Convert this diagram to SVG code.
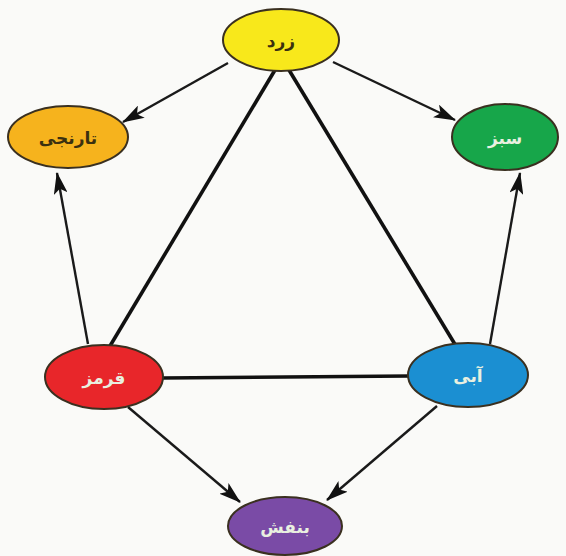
<svg xmlns="http://www.w3.org/2000/svg" width="566" height="556" viewBox="0 0 566 556">
<defs>
<style>
.node{stroke:#3a3020;stroke-width:2}
.lbl{font-family:"DejaVu Sans",sans-serif;font-weight:bold;font-size:17px;text-anchor:middle;dominant-baseline:central}
.dark{fill:#3b3010}
.light{fill:#e9f0e0}
.arr{stroke:#1a1a1a;stroke-width:2.4;fill:none;marker-end:url(#ah)}
.tri{stroke:#111;stroke-width:3.6;fill:none}
</style>
<marker id="ah" viewBox="0 0 22 14" refX="21" refY="7" markerWidth="22" markerHeight="14" markerUnits="userSpaceOnUse" orient="auto">
<path d="M0,0 L22,7 L0,14 L5,7 Z" fill="#111"/>
</marker>
</defs>
<rect width="566" height="556" fill="#fafaf8"/>
<g id="connectors">
<line class="tri" x1="275" y1="70" x2="110" y2="346"/>
<line class="tri" x1="289" y1="70" x2="456" y2="346"/>
<line class="tri" x1="162" y1="378" x2="409" y2="376"/>
<line class="arr" x1="228" y1="63" x2="123" y2="122"/>
<line class="arr" x1="333" y1="62" x2="455" y2="120"/>
<line class="arr" x1="88" y1="344" x2="57" y2="173"/>
<line class="arr" x1="490" y1="344" x2="520" y2="173"/>
<line class="arr" x1="128" y1="407" x2="240" y2="502"/>
<line class="arr" x1="437" y1="406" x2="327" y2="500"/>
</g>
<g id="yellow">
<ellipse class="node" cx="281" cy="40" rx="58" ry="31" fill="#f8e81b"/>
<text class="lbl dark" x="281" y="41">زرد</text>
</g>
<g id="orange">
<ellipse class="node" cx="68" cy="137" rx="60" ry="31" fill="#f6b31d"/>
<text class="lbl dark" x="68" y="138">تارنجی</text>
</g>
<g id="green">
<ellipse class="node" cx="505" cy="137" rx="53" ry="33" fill="#17a64a"/>
<text class="lbl light" x="505" y="138">سبز</text>
</g>
<g id="red">
<ellipse class="node" cx="104" cy="377" rx="59" ry="32" fill="#e8262a"/>
<text class="lbl light" x="104" y="378">قرمز</text>
</g>
<g id="blue">
<ellipse class="node" cx="468" cy="375" rx="60" ry="32" fill="#1b8fd2"/>
<text class="lbl light" x="468" y="376">آبی</text>
</g>
<g id="purple">
<ellipse class="node" cx="285" cy="526" rx="57" ry="29" fill="#7a4ba6"/>
<text class="lbl light" x="285" y="527">بنفش</text>
</g>
</svg>
